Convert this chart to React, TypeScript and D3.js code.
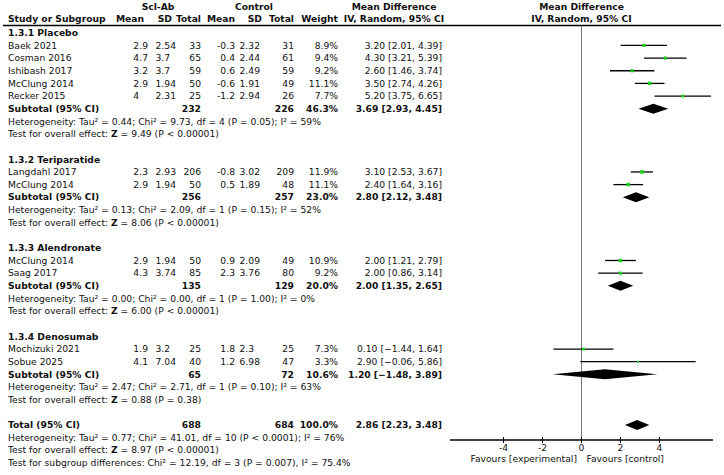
import React from "react";
import * as d3 from "d3";

// ---- study-level data ----
const groupNames = ["1.3.1 Placebo", "1.3.2 Teriparatide", "1.3.3 Alendronate", "1.3.4 Denosumab"];
const studyNames = ["Baek 2021", "Cosman 2016", "Ishibash 2017", "McClung 2014", "Recker 2015", "Langdahl 2017", "McClung 2014", "McClung 2014", "Saag 2017", "Mochizuki 2021", "Sobue 2025"];
const studyGroup = [0, 0, 0, 0, 0, 1, 1, 2, 2, 3, 3];
const expMean = ["2.9", "4.7", "3.2", "2.9", "4", "2.3", "2.9", "2.9", "4.3", "1.9", "4.1"];
const expSD = ["2.54", "3.7", "3.7", "1.94", "2.31", "2.93", "1.94", "1.94", "3.74", "3.2", "7.04"];
const expN = [33, 65, 59, 50, 25, 206, 50, 50, 85, 25, 40];
const ctlMean = ["-0.3", "0.4", "0.6", "-0.6", "-1.2", "-0.8", "0.5", "0.9", "2.3", "1.8", "1.2"];
const ctlSD = ["2.32", "2.44", "2.49", "1.91", "2.94", "3.02", "1.89", "2.09", "3.76", "2.3", "6.98"];
const ctlN = [31, 61, 59, 49, 26, 209, 48, 49, 80, 25, 47];
const weights = [8.9, 9.4, 9.2, 11.1, 7.7, 11.9, 11.1, 10.9, 9.2, 7.3, 3.3];
const md = [3.2, 4.3, 2.6, 3.5, 5.2, 3.1, 2.4, 2.0, 2.0, 0.1, 2.9];
const ciLo = [2.01, 3.21, 1.46, 2.74, 3.75, 2.53, 1.64, 1.21, 0.86, -1.44, -0.06];
const ciHi = [4.39, 5.39, 3.74, 4.26, 6.65, 3.67, 3.16, 2.79, 3.14, 1.64, 5.86];

// ---- subgroup summaries ----
const subExpN = [232, 256, 135, 65];
const subCtlN = [226, 257, 129, 72];
const subWeight = [46.3, 23.0, 20.0, 10.6];
const subMD = [3.69, 2.8, 2.0, 1.2];
const subLo = [2.93, 2.12, 1.35, -1.48];
const subHi = [4.45, 3.48, 2.65, 3.89];
const hetTau = ["0.44", "0.13", "0.00", "2.47"];
const hetChi = ["9.73", "2.09", "0.00", "2.71"];
const hetDf = ["4", "1", "1", "1"];
const hetP = ["P = 0.05", "P = 0.15", "P = 1.00", "P = 0.10"];
const hetI2 = ["59%", "52%", "0%", "63%"];
const zVal = ["9.49", "8.06", "6.00", "0.88"];
const zP = ["P < 0.00001", "P < 0.00001", "P < 0.00001", "P = 0.38"];

// ---- overall ----
const totalExpN = 688;
const totalCtlN = 684;
const totalWeight = 100.0;
const totalMD = 2.86;
const totalLo = 2.23;
const totalHi = 3.48;
const totalHet = { tau: "0.77", chi: "41.01", df: "10", p: "P < 0.0001", i2: "76%" };
const totalZ = { z: "8.97", p: "P < 0.00001" };
const subgroupTest = { chi: "12.19", df: "3", p: "P = 0.007", i2: "75.4%" };

const axisTicks = [-4, -2, 0, 2, 4];

const W = 724;
const H = 475;
const FONT = "'DejaVu Sans', sans-serif";
const FS = 9.2;
const DIGIT = FS * 0.636;
const DOT = FS * 0.318;

// column anchors (right edges of the columns)
const colX = {
  study: 8,
  eMean: 148,
  eSD: 176,
  eN: 201,
  cMean: 235,
  cSD: 260,
  cN: 294,
  weight: 338,
  ci: 442,
};

const x = d3.scaleLinear().domain([-6.75, 6.75]).range([450, 713]);

const fmt2 = d3.format(".2f");
const fmtW = d3.format(".1f");
const ciText = (m: number, lo: number, hi: number) => `${fmt2(m)} [${fmt2(lo)}, ${fmt2(hi)}]`;

type Row =
  | { kind: "group"; g: number }
  | { kind: "study"; i: number }
  | { kind: "subtotal"; g: number }
  | { kind: "het"; g: number }
  | { kind: "z"; g: number }
  | { kind: "blank" }
  | { kind: "total" }
  | { kind: "totalHet" }
  | { kind: "totalZ" }
  | { kind: "subTest" };

const rows: Row[] = [];
groupNames.forEach((_, g) => {
  rows.push({ kind: "group", g });
  studyGroup.forEach((sg, i) => {
    if (sg === g) rows.push({ kind: "study", i });
  });
  rows.push({ kind: "subtotal", g });
  rows.push({ kind: "het", g });
  rows.push({ kind: "z", g });
  rows.push({ kind: "blank" });
});
rows.push({ kind: "total" }, { kind: "totalHet" }, { kind: "totalZ" }, { kind: "subTest" });

const y0 = 32.8;
const rowH = 12.65;
const rowY = (k: number) => y0 + k * rowH;

const T = (props: any) => (
  <text fontFamily={FONT} fontSize={FS} fill="#111" dy="0.35em" {...props} />
);

// number aligned on its decimal point; `decimals` is the column's widest fraction
function Dec({ v, right, decimals, y }: { v: string; right: number; decimals: number; y: number }) {
  const decX = right - DOT - decimals * DIGIT;
  const [ip, fp] = v.split(".");
  return (
    <g>
      <T x={decX} y={y} textAnchor="end">{ip}</T>
      {fp !== undefined && <T x={decX} y={y}>{"." + fp}</T>}
    </g>
  );
}

function Diamond({ m, lo, hi, cy }: { m: number; lo: number; hi: number; cy: number }) {
  const h = 5;
  const p = [
    [x(lo), cy],
    [x(m), cy - h],
    [x(hi), cy],
    [x(m), cy + h],
  ];
  return <polygon points={p.map((q) => q.join(",")).join(" ")} fill="#000" />;
}

export default function App() {
  const axisY = 440;
  const items: React.ReactNode[] = [];

  rows.forEach((r, k) => {
    const cy = rowY(k);
    const key = `r${k}`;
    if (r.kind === "group") {
      items.push(
        <T key={key} x={colX.study} y={cy} fontWeight="bold">
          {groupNames[r.g]}
        </T>
      );
    } else if (r.kind === "study") {
      const i = r.i;
      const s = Math.sqrt(weights[i]) * 1.05;
      items.push(
        <g key={key}>
          <T x={colX.study} y={cy}>{studyNames[i]}</T>
          <Dec v={expMean[i]} right={colX.eMean} decimals={1} y={cy} />
          <Dec v={expSD[i]} right={colX.eSD} decimals={2} y={cy} />
          <T x={colX.eN} y={cy} textAnchor="end">{expN[i]}</T>
          <Dec v={ctlMean[i]} right={colX.cMean} decimals={1} y={cy} />
          <Dec v={ctlSD[i]} right={colX.cSD} decimals={2} y={cy} />
          <T x={colX.cN} y={cy} textAnchor="end">{ctlN[i]}</T>
          <T x={colX.weight} y={cy} textAnchor="end">{fmtW(weights[i])}%</T>
          <T x={colX.ci} y={cy} textAnchor="end">{ciText(md[i], ciLo[i], ciHi[i])}</T>
          <line x1={x(ciLo[i])} x2={x(ciHi[i])} y1={cy} y2={cy} stroke="#000" strokeWidth={1.3} />
          <rect x={x(md[i]) - s / 2} y={cy - s / 2} width={s} height={s} fill="#1fd01f" />
        </g>
      );
    } else if (r.kind === "subtotal") {
      const g = r.g;
      items.push(
        <g key={key}>
          <T x={colX.study} y={cy} fontWeight="bold">Subtotal (95% CI)</T>
          <T x={colX.eN} y={cy} textAnchor="end" fontWeight="bold">{subExpN[g]}</T>
          <T x={colX.cN} y={cy} textAnchor="end" fontWeight="bold">{subCtlN[g]}</T>
          <T x={colX.weight} y={cy} textAnchor="end" fontWeight="bold">{fmtW(subWeight[g])}%</T>
          <T x={colX.ci} y={cy} textAnchor="end" fontWeight="bold">{ciText(subMD[g], subLo[g], subHi[g])}</T>
          <Diamond m={subMD[g]} lo={subLo[g]} hi={subHi[g]} cy={cy} />
        </g>
      );
    } else if (r.kind === "het") {
      const g = r.g;
      items.push(
        <T key={key} x={colX.study} y={cy}>
          {`Heterogeneity: Tau² = ${hetTau[g]}; Chi² = ${hetChi[g]}, df = ${hetDf[g]} (${hetP[g]}); I² = ${hetI2[g]}`}
        </T>
      );
    } else if (r.kind === "z") {
      const g = r.g;
      items.push(
        <T key={key} x={colX.study} y={cy}>
          {"Test for overall effect: "}
          <tspan fontWeight="bold">Z</tspan>
          {` = ${zVal[g]} (${zP[g]})`}
        </T>
      );
    } else if (r.kind === "total") {
      items.push(
        <g key={key}>
          <T x={colX.study} y={cy} fontWeight="bold">Total (95% CI)</T>
          <T x={colX.eN} y={cy} textAnchor="end" fontWeight="bold">{totalExpN}</T>
          <T x={colX.cN} y={cy} textAnchor="end" fontWeight="bold">{totalCtlN}</T>
          <T x={colX.weight} y={cy} textAnchor="end" fontWeight="bold">{fmtW(totalWeight)}%</T>
          <T x={colX.ci} y={cy} textAnchor="end" fontWeight="bold">{ciText(totalMD, totalLo, totalHi)}</T>
          <Diamond m={totalMD} lo={totalLo} hi={totalHi} cy={cy} />
        </g>
      );
    } else if (r.kind === "totalHet") {
      items.push(
        <T key={key} x={colX.study} y={cy}>
          {`Heterogeneity: Tau² = ${totalHet.tau}; Chi² = ${totalHet.chi}, df = ${totalHet.df} (${totalHet.p}); I² = ${totalHet.i2}`}
        </T>
      );
    } else if (r.kind === "totalZ") {
      items.push(
        <T key={key} x={colX.study} y={cy}>
          {"Test for overall effect: "}
          <tspan fontWeight="bold">Z</tspan>
          {` = ${totalZ.z} (${totalZ.p})`}
        </T>
      );
    } else if (r.kind === "subTest") {
      items.push(
        <T key={key} x={colX.study} y={cy}>
          {`Test for subgroup differences: Chi² = ${subgroupTest.chi}, df = ${subgroupTest.df} (${subgroupTest.p}), I² = ${subgroupTest.i2}`}
        </T>
      );
    }
  });

  const hy1 = 7;
  const hy2 = 19;

  return (
    <svg
      width={W}
      height={H}
      style={{ position: "absolute", left: 0, top: 0, background: "#fff" }}
    >
      <rect width={W} height={H} fill="#fff" />
      {/* column headers */}
      <T x={158} y={hy1} textAnchor="middle" fontWeight="bold">Scl-Ab</T>
      <T x={254} y={hy1} textAnchor="middle" fontWeight="bold">Control</T>
      <T x={394} y={hy1} textAnchor="middle" fontWeight="bold">Mean Difference</T>
      <T x={x(0)} y={hy1} textAnchor="middle" fontWeight="bold">Mean Difference</T>
      <T x={colX.study} y={hy2} fontWeight="bold">Study or Subgroup</T>
      <T x={colX.eMean - 4} y={hy2} textAnchor="end" fontWeight="bold">Mean</T>
      <T x={colX.eSD - 4} y={hy2} textAnchor="end" fontWeight="bold">SD</T>
      <T x={colX.eN} y={hy2} textAnchor="end" fontWeight="bold">Total</T>
      <T x={colX.cMean} y={hy2} textAnchor="end" fontWeight="bold">Mean</T>
      <T x={colX.cSD + 2} y={hy2} textAnchor="end" fontWeight="bold">SD</T>
      <T x={colX.cN} y={hy2} textAnchor="end" fontWeight="bold">Total</T>
      <T x={colX.weight} y={hy2} textAnchor="end" fontWeight="bold">Weight</T>
      <T x={394} y={hy2} textAnchor="middle" fontWeight="bold">IV, Random, 95% CI</T>
      <T x={x(0)} y={hy2} textAnchor="middle" fontWeight="bold">IV, Random, 95% CI</T>
      <line x1={3} x2={721} y1={25.5} y2={25.5} stroke="#000" strokeWidth={1.6} />

      {/* line of no effect */}
      <line x1={x(0)} x2={x(0)} y1={26} y2={axisY} stroke="#777" strokeWidth={1} />

      {items}

      {/* axis */}
      <line x1={x.range()[0]} x2={x.range()[1]} y1={axisY} y2={axisY} stroke="#000" strokeWidth={1.3} />
      {axisTicks.map((t) => (
        <g key={t}>
          <line x1={x(t)} x2={x(t)} y1={axisY - 3} y2={axisY + 3} stroke="#000" strokeWidth={1} />
          <T x={x(t)} y={axisY + 8} textAnchor="middle">{t < 0 ? `-${Math.abs(t)}` : t}</T>
        </g>
      ))}
      <T x={x(0) - 4.5} y={axisY + 19} textAnchor="end">Favours [experimental]</T>
      <T x={x(0) + 5} y={axisY + 19}>Favours [control]</T>
    </svg>
  );
}
